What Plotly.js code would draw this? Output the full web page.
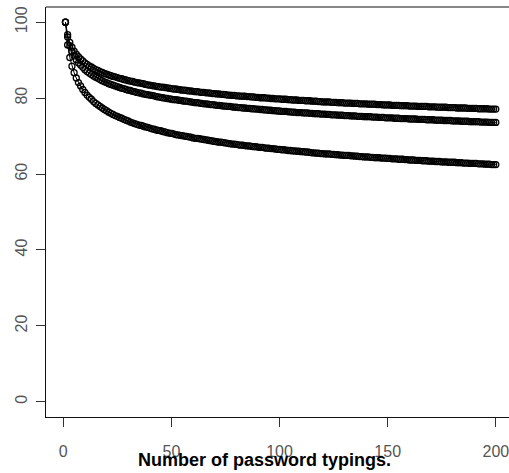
<!DOCTYPE html>
<html>
<head>
<meta charset="utf-8">
<script src="https://cdn.plot.ly/plotly-3.0.1.min.js"></script>
<style>
html, body { margin: 0; padding: 0; overflow: hidden; background: #fff; }
#chart { width: 522px; height: 473px; }
</style>
</head>
<body>
<div id="chart"></div>
<script>
// Percentage values per password typing (typing 1..200), three curves
var seriesTop = [
100, 96.7, 94.7, 93.4, 92.4, 91.6, 90.9, 90.3, 89.8, 89.3,
88.9, 88.5, 88.2, 87.8, 87.5, 87.3, 87.0, 86.8, 86.5, 86.3,
86.1, 85.9, 85.7, 85.6, 85.4, 85.2, 85.1, 84.9, 84.8, 84.6,
84.5, 84.4, 84.2, 84.1, 84.0, 83.9, 83.8, 83.6, 83.5, 83.4,
83.3, 83.2, 83.1, 83.0, 82.9, 82.9, 82.8, 82.7, 82.6, 82.5,
82.4, 82.4, 82.3, 82.2, 82.1, 82.1, 82.0, 81.9, 81.9, 81.8,
81.7, 81.7, 81.6, 81.5, 81.5, 81.4, 81.4, 81.3, 81.2, 81.2,
81.1, 81.1, 81.0, 81.0, 80.9, 80.8, 80.8, 80.7, 80.7, 80.6,
80.6, 80.5, 80.5, 80.5, 80.4, 80.4, 80.3, 80.3, 80.2, 80.2,
80.1, 80.1, 80.1, 80.0, 80.0, 79.9, 79.9, 79.8, 79.8, 79.8,
79.7, 79.7, 79.7, 79.6, 79.6, 79.5, 79.5, 79.5, 79.4, 79.4,
79.4, 79.3, 79.3, 79.3, 79.2, 79.2, 79.2, 79.1, 79.1, 79.0,
79.0, 79.0, 79.0, 78.9, 78.9, 78.9, 78.8, 78.8, 78.8, 78.7,
78.7, 78.7, 78.7, 78.6, 78.6, 78.6, 78.5, 78.5, 78.5, 78.5,
78.4, 78.4, 78.4, 78.4, 78.3, 78.3, 78.3, 78.2, 78.2, 78.2,
78.2, 78.1, 78.1, 78.1, 78.1, 78.0, 78.0, 78.0, 78.0, 77.9,
77.9, 77.9, 77.9, 77.8, 77.8, 77.8, 77.8, 77.8, 77.7, 77.7,
77.7, 77.7, 77.6, 77.6, 77.6, 77.6, 77.6, 77.5, 77.5, 77.5,
77.5, 77.4, 77.4, 77.4, 77.4, 77.4, 77.3, 77.3, 77.3, 77.3,
77.3, 77.2, 77.2, 77.2, 77.2, 77.2, 77.1, 77.1, 77.1, 77.1
];
var seriesMid = [
100, 96.1, 93.8, 92.3, 91.1, 90.1, 89.3, 88.7, 88.1, 87.5,
87.0, 86.6, 86.2, 85.8, 85.5, 85.2, 84.9, 84.6, 84.3, 84.1,
83.8, 83.6, 83.4, 83.2, 83.0, 82.8, 82.6, 82.5, 82.3, 82.1,
82.0, 81.8, 81.7, 81.5, 81.4, 81.3, 81.1, 81.0, 80.9, 80.8,
80.7, 80.6, 80.4, 80.3, 80.2, 80.1, 80.0, 79.9, 79.8, 79.7,
79.6, 79.6, 79.5, 79.4, 79.3, 79.2, 79.2, 79.1, 79.0, 78.9,
78.8, 78.8, 78.7, 78.6, 78.5, 78.5, 78.4, 78.3, 78.3, 78.2,
78.1, 78.1, 78.0, 77.9, 77.9, 77.8, 77.8, 77.7, 77.6, 77.6,
77.5, 77.5, 77.4, 77.4, 77.3, 77.3, 77.2, 77.2, 77.1, 77.1,
77.0, 77.0, 76.9, 76.9, 76.8, 76.8, 76.7, 76.7, 76.6, 76.6,
76.5, 76.5, 76.5, 76.4, 76.4, 76.3, 76.3, 76.2, 76.2, 76.2,
76.1, 76.1, 76.1, 76.0, 76.0, 75.9, 75.9, 75.9, 75.8, 75.8,
75.8, 75.7, 75.7, 75.6, 75.6, 75.6, 75.5, 75.5, 75.5, 75.4,
75.4, 75.4, 75.3, 75.3, 75.3, 75.2, 75.2, 75.2, 75.1, 75.1,
75.1, 75.1, 75.0, 75.0, 75.0, 74.9, 74.9, 74.9, 74.8, 74.8,
74.8, 74.8, 74.7, 74.7, 74.7, 74.6, 74.6, 74.6, 74.6, 74.5,
74.5, 74.5, 74.5, 74.4, 74.4, 74.4, 74.4, 74.3, 74.3, 74.3,
74.3, 74.2, 74.2, 74.2, 74.2, 74.1, 74.1, 74.1, 74.1, 74.0,
74.0, 74.0, 74.0, 73.9, 73.9, 73.9, 73.9, 73.8, 73.8, 73.8,
73.8, 73.8, 73.7, 73.7, 73.7, 73.7, 73.6, 73.6, 73.6, 73.6
];
var seriesLow = [
100, 94.0, 90.7, 88.4, 86.7, 85.3, 84.1, 83.2, 82.3, 81.5,
80.8, 80.2, 79.7, 79.1, 78.6, 78.2, 77.8, 77.4, 77.0, 76.7,
76.3, 76.0, 75.7, 75.4, 75.2, 74.9, 74.7, 74.4, 74.2, 74.0,
73.7, 73.5, 73.3, 73.1, 72.9, 72.8, 72.6, 72.4, 72.3, 72.1,
71.9, 71.8, 71.6, 71.5, 71.4, 71.2, 71.1, 70.9, 70.8, 70.7,
70.6, 70.4, 70.3, 70.2, 70.1, 70.0, 69.9, 69.8, 69.7, 69.5,
69.4, 69.4, 69.3, 69.2, 69.1, 69.0, 68.9, 68.8, 68.7, 68.6,
68.5, 68.4, 68.4, 68.3, 68.2, 68.1, 68.0, 67.9, 67.9, 67.8,
67.7, 67.6, 67.6, 67.5, 67.4, 67.4, 67.3, 67.2, 67.2, 67.1,
67.0, 67.0, 66.9, 66.8, 66.8, 66.7, 66.7, 66.6, 66.5, 66.5,
66.4, 66.4, 66.3, 66.2, 66.2, 66.1, 66.1, 66.0, 66.0, 65.9,
65.9, 65.8, 65.8, 65.7, 65.6, 65.6, 65.5, 65.5, 65.4, 65.4,
65.3, 65.3, 65.3, 65.2, 65.2, 65.1, 65.1, 65.0, 65.0, 64.9,
64.9, 64.9, 64.8, 64.8, 64.7, 64.7, 64.6, 64.6, 64.5, 64.5,
64.5, 64.4, 64.4, 64.3, 64.3, 64.3, 64.2, 64.2, 64.2, 64.1,
64.1, 64.0, 64.0, 64.0, 63.9, 63.9, 63.9, 63.8, 63.8, 63.7,
63.7, 63.7, 63.6, 63.6, 63.6, 63.5, 63.5, 63.5, 63.4, 63.4,
63.4, 63.3, 63.3, 63.3, 63.2, 63.2, 63.2, 63.1, 63.1, 63.1,
63.1, 63.0, 63.0, 63.0, 62.9, 62.9, 62.9, 62.8, 62.8, 62.8,
62.8, 62.7, 62.7, 62.7, 62.6, 62.6, 62.6, 62.5, 62.5, 62.5
];
var xTickVals = [0, 50, 100, 150, 200];
var yTickVals = [0, 20, 40, 60, 80, 100];
var xTitle = "Number of password typings.";

// typing index 1..N
var typings = seriesTop.map(function (_, i) { return i + 1; });

function curve(vals) {
  return {
    x: typings,
    y: vals,
    type: "scatter",
    mode: "lines+markers",
    line: { color: "#000", width: 1 },
    marker: { symbol: "circle-open", size: 6, color: "#000", line: { width: 1.3, color: "#000" } },
    showlegend: false,
    hoverinfo: "x+y"
  };
}

var data = [curve(seriesTop), curve(seriesMid), curve(seriesLow)];

var tickFont = { family: "Liberation Sans, Arial, sans-serif", size: 16, color: "#555" };

var layout = {
  width: 522,
  height: 473,
  margin: { l: 46, r: 0, t: 7, b: 56, pad: 0 },
  paper_bgcolor: "#fff",
  plot_bgcolor: "#fff",
  xaxis: {
    range: [-8, 212.1],
    tickmode: "array",
    tickvals: xTickVals,
    ticktext: xTickVals.map(String),
    ticks: "outside",
    ticklen: 9,
    tickwidth: 1,
    tickcolor: "#333",
    ticklabelstandoff: 11,
    showgrid: false,
    zeroline: false,
    showline: true,
    mirror: false,
    linecolor: "#111",
    linewidth: 1,
    tickfont: tickFont,
    automargin: false
  },
  yaxis: {
    range: [-4, 104],
    tickmode: "array",
    tickvals: yTickVals,
    ticktext: yTickVals.map(String),
    tickangle: -90,
    ticks: "outside",
    ticklen: 9,
    tickwidth: 1,
    tickcolor: "#333",
    ticklabelstandoff: 3,
    showgrid: false,
    zeroline: false,
    showline: true,
    mirror: false,
    linecolor: "#111",
    linewidth: 1,
    tickfont: tickFont,
    automargin: false
  },
  shapes: [{
    type: "line",
    xref: "paper",
    yref: "paper",
    x0: 0,
    x1: 1,
    y0: 1,
    y1: 1,
    line: { color: "#111", width: 1 }
  }],
  annotations: [{
    text: xTitle,
    xref: "paper",
    yref: "paper",
    x: 0.4595,
    y: -0.105,
    xanchor: "center",
    yanchor: "middle",
    showarrow: false,
    font: { family: "Liberation Sans, Arial, sans-serif", size: 18, color: "#000", weight: "bold" }
  }]
};

Plotly.newPlot("chart", data, layout, { staticPlot: true, displayModeBar: false });
</script>
</body>
</html>
